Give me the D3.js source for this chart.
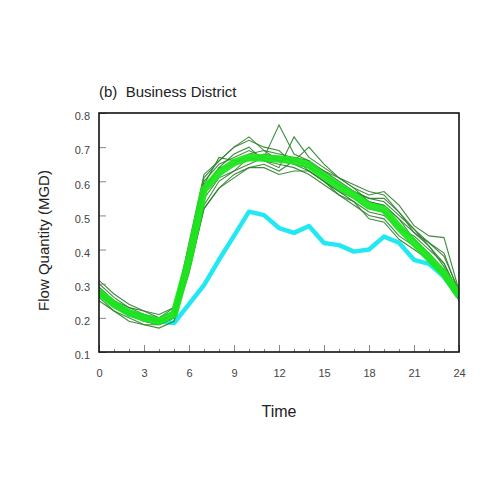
<!DOCTYPE html>
<html>
<head>
<meta charset="utf-8">
<script src="https://cdn.jsdelivr.net/npm/d3@7"></script>
<style>
  body { margin: 0; background: #fff; }
  text { font-family: "Liberation Sans", Arial, sans-serif; }
</style>
</head>
<body>
<div id="chart"></div>
<script>
// hours of the day
var hours = d3.range(0, 25);

// observed flow (cyan)
var observed = [0.28, 0.24, 0.21, 0.20, 0.19, 0.185, 0.24, 0.296, 0.37, 0.44, 0.511, 0.501, 0.463,
                0.449, 0.469, 0.419, 0.413, 0.394, 0.40, 0.438, 0.42, 0.37, 0.358, 0.32, 0.26];

// mean of simulated runs (bright green)
var meanFlow = [0.275, 0.24, 0.215, 0.20, 0.19, 0.21, 0.37, 0.575, 0.625, 0.655, 0.67, 0.668, 0.665,
                0.66, 0.648, 0.615, 0.585, 0.56, 0.528, 0.518, 0.465, 0.42, 0.375, 0.33, 0.265];

// individual runs (thin dark green)
var runs = [
  [0.29, 0.25, 0.22, 0.20, 0.19, 0.21, 0.40, 0.60, 0.65, 0.67, 0.69, 0.67, 0.66, 0.65, 0.64, 0.62, 0.59, 0.57, 0.55, 0.54, 0.50, 0.46, 0.41, 0.36, 0.27],
  [0.31, 0.27, 0.24, 0.22, 0.20, 0.22, 0.42, 0.62, 0.66, 0.70, 0.73, 0.69, 0.68, 0.67, 0.63, 0.60, 0.57, 0.55, 0.52, 0.51, 0.47, 0.43, 0.38, 0.33, 0.26],
  [0.25, 0.22, 0.19, 0.18, 0.18, 0.20, 0.34, 0.53, 0.60, 0.63, 0.65, 0.67, 0.765, 0.68, 0.66, 0.63, 0.60, 0.57, 0.54, 0.53, 0.49, 0.43, 0.39, 0.34, 0.27],
  [0.27, 0.24, 0.22, 0.21, 0.20, 0.23, 0.39, 0.57, 0.64, 0.68, 0.70, 0.66, 0.64, 0.73, 0.67, 0.64, 0.61, 0.59, 0.57, 0.56, 0.51, 0.46, 0.42, 0.38, 0.28],
  [0.28, 0.23, 0.21, 0.19, 0.18, 0.20, 0.34, 0.52, 0.58, 0.62, 0.64, 0.65, 0.63, 0.66, 0.70, 0.65, 0.61, 0.58, 0.56, 0.57, 0.53, 0.47, 0.44, 0.435, 0.28],
  [0.30, 0.26, 0.23, 0.22, 0.21, 0.23, 0.40, 0.61, 0.66, 0.70, 0.72, 0.70, 0.69, 0.65, 0.63, 0.60, 0.56, 0.53, 0.50, 0.49, 0.44, 0.41, 0.37, 0.32, 0.26],
  [0.26, 0.22, 0.20, 0.18, 0.17, 0.19, 0.33, 0.52, 0.58, 0.61, 0.64, 0.64, 0.62, 0.63, 0.63, 0.60, 0.57, 0.54, 0.49, 0.48, 0.43, 0.40, 0.37, 0.33, 0.25],
  [0.28, 0.25, 0.23, 0.21, 0.19, 0.21, 0.37, 0.58, 0.64, 0.65, 0.68, 0.69, 0.66, 0.67, 0.66, 0.62, 0.59, 0.57, 0.55, 0.55, 0.51, 0.45, 0.42, 0.39, 0.27],
  [0.27, 0.23, 0.21, 0.19, 0.18, 0.20, 0.35, 0.55, 0.61, 0.63, 0.67, 0.66, 0.65, 0.64, 0.62, 0.59, 0.56, 0.54, 0.51, 0.50, 0.46, 0.44, 0.40, 0.36, 0.27],
  [0.29, 0.25, 0.22, 0.21, 0.19, 0.21, 0.37, 0.59, 0.67, 0.66, 0.66, 0.68, 0.67, 0.66, 0.65, 0.63, 0.61, 0.58, 0.54, 0.53, 0.49, 0.45, 0.41, 0.35, 0.27]
];

var xTicks = [0, 3, 6, 9, 12, 15, 18, 21, 24];
var yTicks = [0.1, 0.2, 0.3, 0.4, 0.5, 0.6, 0.7, 0.8];

var svgWidth = 500;
var svgHeight = 500;

var margin = { top: 113, bottom: 148, right: 41, left: 99 };
var width = svgWidth - margin.left - margin.right;
var height = svgHeight - margin.top - margin.bottom;

var svg = d3.select("#chart")
    .append("svg")
    .attr("width", svgWidth)
    .attr("height", svgHeight);

var chartGroup = svg.append("g")
    .attr("transform", `translate(${margin.left}, ${margin.top})`);

var xScale = d3.scaleLinear().domain([0, 24]).range([0, width]);
var yScale = d3.scaleLinear().domain([0.1, 0.8]).range([height, 0]);

var line = d3.line()
    .x(function(d, i) { return xScale(hours[i]); })
    .y(function(d) { return yScale(d); });

// clip to frame
chartGroup.append("clipPath").attr("id", "clip")
    .append("rect").attr("width", width).attr("height", height);

var plot = chartGroup.append("g").attr("clip-path", "url(#clip)");

plot.append("path")
    .datum(observed)
    .attr("d", line)
    .attr("fill", "none")
    .attr("stroke", "#22e8f4")
    .attr("stroke-width", 4.5)
    .attr("stroke-linejoin", "round");

plot.selectAll(".run")
    .data(runs)
    .enter()
    .append("path")
    .attr("class", "run")
    .attr("d", line)
    .attr("fill", "none")
    .attr("stroke", "#2b7f2b")
    .attr("stroke-width", 1.1)
    .attr("stroke-opacity", 0.9);

// mean drawn on top of the runs
plot.append("path")
    .datum(meanFlow)
    .attr("d", line)
    .attr("fill", "none")
    .attr("stroke", "#1ee61e")
    .attr("stroke-width", 7.5)
    .attr("stroke-opacity", 0.95)
    .attr("stroke-linejoin", "round");

// axes with inward ticks
var xAxis = d3.axisBottom(xScale).tickValues(xTicks).tickSize(-7).tickPadding(17)
    .tickFormat(d3.format("d"));
var xMinor = d3.axisBottom(xScale).tickValues(hours).tickSize(-3).tickFormat("");
var yAxis = d3.axisLeft(yScale).tickValues(yTicks).tickSize(-7).tickPadding(9)
    .tickFormat(d3.format(".1f"));

var xg = chartGroup.append("g")
    .attr("transform", `translate(0, ${height})`)
    .call(xMinor);
var xg2 = chartGroup.append("g")
    .attr("transform", `translate(0, ${height})`)
    .call(xAxis);
var yg = chartGroup.append("g").call(yAxis);
yg.selectAll(".tick text").attr("dy", "0.62em");

[xg, xg2, yg].forEach(function(g) {
    g.select(".domain").remove();
    g.selectAll(".tick line").attr("stroke", "#888").attr("stroke-width", 1);
    g.selectAll(".tick text")
        .attr("fill", "#444")
        .attr("font-size", "11px")
        .attr("font-family", "Liberation Sans, Arial, sans-serif");
});

// frame
chartGroup.append("rect")
    .attr("width", width)
    .attr("height", height)
    .attr("fill", "none")
    .attr("stroke", "#111")
    .attr("stroke-width", 1.6);

// title
chartGroup.append("text")
    .attr("x", 0)
    .attr("y", -16)
    .attr("font-size", "15px")
    .attr("fill", "#222")
    .attr("xml:space", "preserve")
    .text("(b)  Business District");

// axis labels
chartGroup.append("text")
    .attr("transform", "rotate(-90)")
    .attr("x", -(height / 2) - 8)
    .attr("y", -50)
    .attr("text-anchor", "middle")
    .attr("font-size", "15px")
    .attr("fill", "#222")
    .text("Flow Quantity (MGD)");

chartGroup.append("text")
    .attr("x", width / 2)
    .attr("y", height + 65)
    .attr("text-anchor", "middle")
    .attr("font-size", "16px")
    .attr("fill", "#222")
    .text("Time");
</script>
</body>
</html>
